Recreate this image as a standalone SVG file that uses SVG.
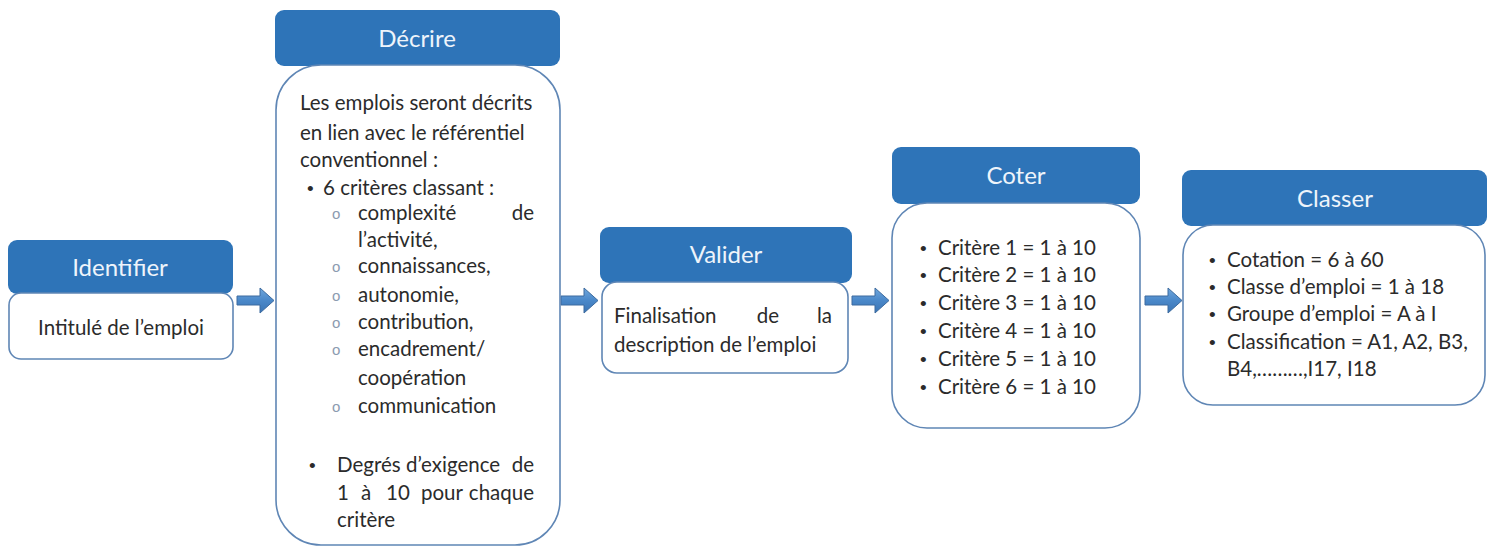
<svg xmlns="http://www.w3.org/2000/svg" width="1494" height="546" viewBox="0 0 1494 546">
<defs>
<linearGradient id="ag" x1="0" y1="0" x2="0" y2="1">
<stop offset="0" stop-color="#6fa6dc"/>
<stop offset="0.5" stop-color="#4a88c9"/>
<stop offset="1" stop-color="#3a74b4"/>
</linearGradient>
<path id="arrow" d="M0,8 H23 V0 L37,12.5 L23,25 V17 H0 Z"/>
</defs>
<style>
.hdr{fill:#2e74b8;}
.body{fill:#ffffff;stroke:#5f86b5;stroke-width:1.6;}
.ht{font-family:Lato,"Liberation Sans",sans-serif;font-size:24px;fill:#eef4fb;text-anchor:middle;}
.t{font-family:Lato,"Liberation Sans",sans-serif;font-size:20.5px;fill:#2b2b2b;}
.b{font-family:"Liberation Sans",sans-serif;font-size:19px;fill:#2b2b2b;}
.o{font-family:"Liberation Sans",sans-serif;font-size:15px;fill:#8b9bb0;}
.arr{fill:url(#ag);stroke:#3d6b9f;stroke-width:1;}
</style>
<rect width="1494" height="546" fill="#ffffff"/>

<g id="connectors">
<use href="#arrow" class="arr" x="237" y="288"/>
<use href="#arrow" class="arr" x="561" y="288"/>
<use href="#arrow" class="arr" x="852" y="288"/>
<use href="#arrow" class="arr" x="1145" y="288"/>
</g>

<g id="identifier">
<rect class="hdr" x="8" y="240" width="225" height="54" rx="9"/>
<rect class="body" x="9" y="293" width="224" height="66" rx="12"/>
<text class="ht" x="120" y="276">Identifier</text>
<text class="t" x="121" y="335" text-anchor="middle">Intitulé de l’emploi</text>
</g>

<g id="decrire">
<rect class="hdr" x="275" y="10" width="285" height="56" rx="9"/>
<rect class="body" x="276" y="65" width="284" height="480" rx="45"/>
<text class="ht" x="417" y="47">Décrire</text>
<text class="t" x="300" y="110">Les emplois seront décrits</text>
<text class="t" x="300" y="140">en lien avec le référentiel</text>
<text class="t" x="300" y="167">conventionnel :</text>
<text class="b" x="307" y="195">•</text>
<text class="t" x="323" y="195">6 critères classant :</text>
<text class="o" x="332" y="219">o</text>
<text class="t" x="358" y="220">complexité</text>
<text class="t" x="534" y="220" text-anchor="end">de</text>
<text class="t" x="358" y="247">l’activité,</text>
<text class="o" x="332" y="272">o</text>
<text class="t" x="358" y="273">connaissances,</text>
<text class="o" x="332" y="301">o</text>
<text class="t" x="358" y="302">autonomie,</text>
<text class="o" x="332" y="328">o</text>
<text class="t" x="358" y="329">contribution,</text>
<text class="o" x="332" y="355">o</text>
<text class="t" x="358" y="356">encadrement/</text>
<text class="t" x="358" y="385">coopération</text>
<text class="o" x="332" y="412">o</text>
<text class="t" x="358" y="413">communication</text>
<text class="b" x="309" y="472">•</text>
<text class="t" x="337" y="472">Degrés d’exigence</text>
<text class="t" x="534" y="472" text-anchor="end">de</text>
<text class="t" x="337" y="500">1</text>
<text class="t" x="361" y="500">à</text>
<text class="t" x="386" y="500">10</text>
<text class="t" x="421" y="500">pour</text>
<text class="t" x="534" y="500" text-anchor="end">chaque</text>
<text class="t" x="337" y="527">critère</text>
</g>

<g id="valider">
<rect class="hdr" x="600" y="227" width="252" height="56" rx="9"/>
<rect class="body" x="602" y="282" width="246" height="91" rx="15"/>
<text class="ht" x="726" y="263">Valider</text>
<text class="t" x="614" y="323">Finalisation</text>
<text class="t" x="768" y="323" text-anchor="middle">de</text>
<text class="t" x="832" y="323" text-anchor="end">la</text>
<text class="t" x="614" y="352">description de l’emploi</text>
</g>

<g id="coter">
<rect class="hdr" x="892" y="147" width="248" height="57" rx="9"/>
<rect class="body" x="892" y="203" width="248" height="225" rx="35"/>
<text class="ht" x="1016" y="184">Coter</text>
<text class="b" x="920" y="255">•</text><text class="t" x="938" y="255">Critère 1 = 1 à 10</text>
<text class="b" x="920" y="282">•</text><text class="t" x="938" y="282">Critère 2 = 1 à 10</text>
<text class="b" x="920" y="310">•</text><text class="t" x="938" y="310">Critère 3 = 1 à 10</text>
<text class="b" x="920" y="338">•</text><text class="t" x="938" y="338">Critère 4 = 1 à 10</text>
<text class="b" x="920" y="366">•</text><text class="t" x="938" y="366">Critère 5 = 1 à 10</text>
<text class="b" x="920" y="394">•</text><text class="t" x="938" y="394">Critère 6 = 1 à 10</text>
</g>

<g id="classer">
<rect class="hdr" x="1182" y="170" width="305" height="56" rx="9"/>
<rect class="body" x="1183" y="225" width="302" height="180" rx="30"/>
<text class="ht" x="1335" y="207">Classer</text>
<text class="b" x="1209" y="267">•</text><text class="t" x="1227" y="267">Cotation = 6 à 60</text>
<text class="b" x="1209" y="294">•</text><text class="t" x="1227" y="294">Classe d’emploi = 1 à 18</text>
<text class="b" x="1209" y="321">•</text><text class="t" x="1227" y="321">Groupe d’emploi = A à I</text>
<text class="b" x="1209" y="349">•</text><text class="t" x="1227" y="349">Classification = A1, A2, B3,</text>
<text class="t" x="1227" y="376">B4,………,I17, I18</text>
</g>
</svg>
